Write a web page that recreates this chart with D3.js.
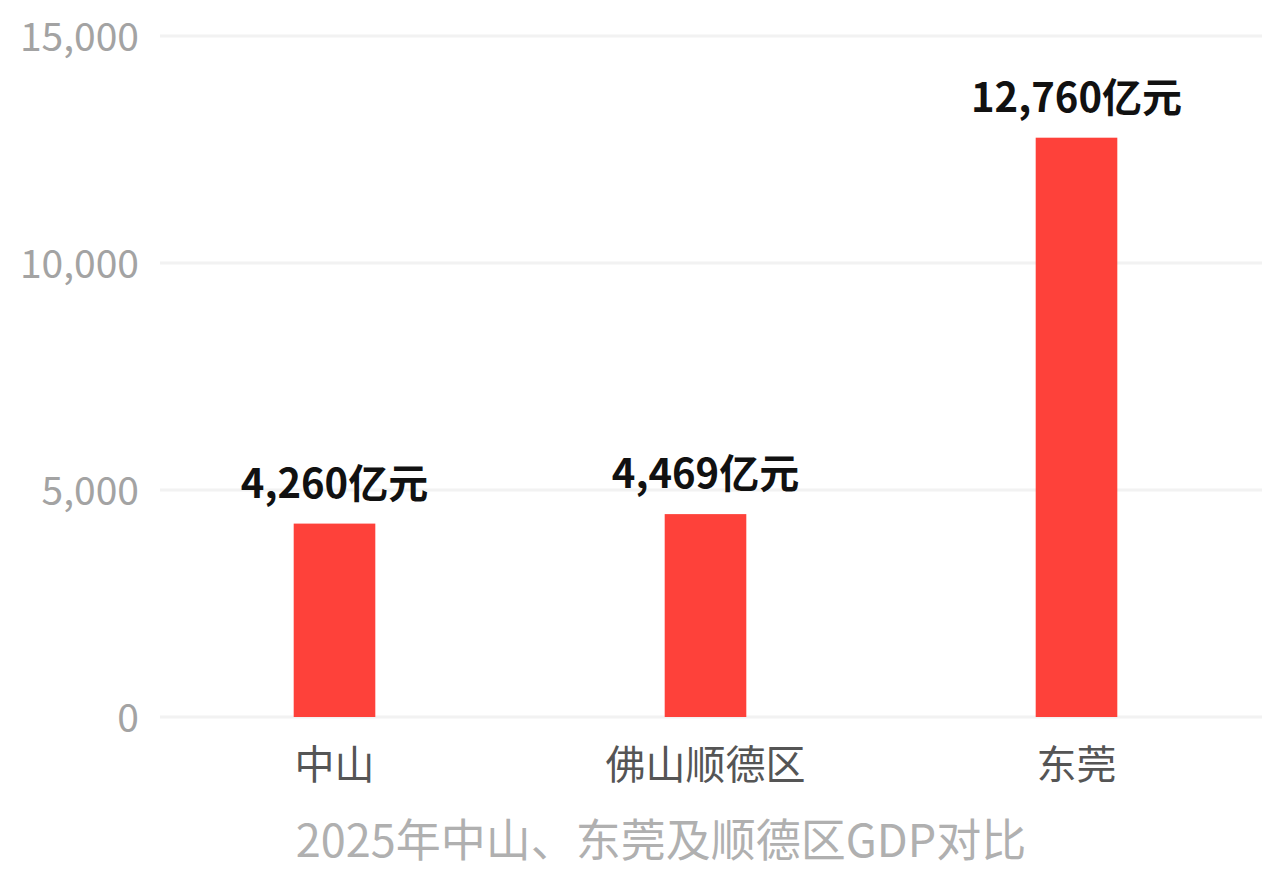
<!DOCTYPE html>
<html><head><meta charset="utf-8">
<script src="https://cdn.jsdelivr.net/npm/d3@7/dist/d3.min.js"></script>
<style>body{margin:0;background:#fff;} svg{display:block;}</style>
</head><body>
<svg id="c" width="1280" height="880"></svg>
<script>
const categories = ["中山", "佛山顺德区", "东莞"];
const values = [4260, 4469, 12760];
const yTicks = [0, 5000, 10000, 15000];
const title = "2025年中山、东莞及顺德区GDP对比";
const unit = "亿元";

const svg = d3.select("#c");
const font = "'Noto Sans CJK SC','Noto Sans',sans-serif";
const x = d3.scaleBand().domain(categories).range([149, 1262]).paddingInner(0.78).paddingOuter(0.39);
const y = d3.scaleLinear().domain([0, 15000]).range([717, 36]);

const grid = svg.append("g");
grid.selectAll("line").data(yTicks).join("line")
  .attr("x1", 160).attr("x2", 1262)
  .attr("y1", d => y(d)).attr("y2", d => y(d))
  .attr("stroke", "#f2f2f2").attr("stroke-width", 3);

const yAxis = svg.append("g").attr("transform", "translate(139,0)")
  .call(d3.axisLeft(y).tickValues(yTicks).tickSize(0).tickPadding(0).tickFormat(d3.format(",")));
yAxis.select(".domain").remove();
yAxis.selectAll("text").attr("font-family", font).attr("font-size", 39).attr("fill", "#a3a3a3").attr("dy", "0.36em");

svg.append("g").selectAll("rect").data(values).join("rect")
  .attr("x", (d, i) => x(categories[i])).attr("width", x.bandwidth())
  .attr("y", d => y(d)).attr("height", d => y(0) - y(d))
  .attr("fill", "#fe413a");

svg.append("g").selectAll("text").data(values).join("text")
  .attr("x", (d, i) => x(categories[i]) + x.bandwidth() / 2)
  .attr("y", d => y(d) - 26)
  .attr("text-anchor", "middle").attr("font-family", font).attr("font-weight", "bold")
  .attr("font-size", 40).attr("fill", "#111")
  .text(d => d3.format(",")(d) + unit);

const xAxis = svg.append("g").attr("transform", "translate(0,717)")
  .call(d3.axisBottom(x).tickSize(0).tickPadding(0));
xAxis.select(".domain").remove();
xAxis.selectAll("text").attr("font-family", font).attr("font-size", 40).attr("fill", "#555")
  .attr("dy", "0").attr("y", 62);

svg.append("text").attr("x", 661).attr("y", 857).attr("text-anchor", "middle")
  .attr("font-family", font).attr("font-size", 45).attr("fill", "#b0b0b0").text(title);
</script>
</body></html>
